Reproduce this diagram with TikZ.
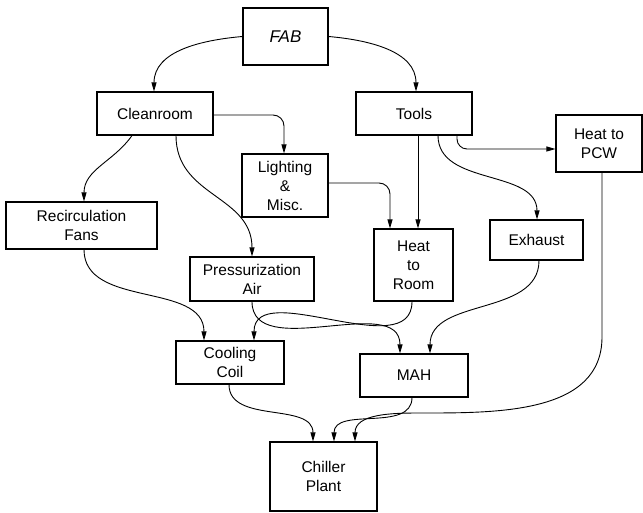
\documentclass[tikz,border=0pt]{standalone}
\usepackage{fontspec}
\setmainfont{Liberation Sans}
\usetikzlibrary{arrows.meta}
\begin{document}
\begin{tikzpicture}[x=1pt,y=1pt,
  box/.style={draw=black, line width=1.1pt, inner sep=0pt, align=center,
    font=\fontsize{15.5}{19}\selectfont},
  conn/.style={line width=0.9pt, -{Triangle[length=9pt,width=5pt]}},
  rc/.style={rounded corners=11pt}]
\useasboundingbox (0,0) rectangle (643,512);
% nodes
\node[box, minimum width=85pt, minimum height=57pt, font=\fontsize{17}{19}\selectfont\itshape] (fab) at (285.5,475.5) {FAB};
\node[box, minimum width=116pt, minimum height=43pt] (clean) at (155,398.5) {Cleanroom};
\node[box, minimum width=116pt, minimum height=43pt] (tools) at (414,398.5) {Tools};
\node[box, minimum width=86pt, minimum height=57pt] (pcw) at (599,368.5) {Heat to\\PCW};
\node[box, minimum width=86pt, minimum height=63pt] (light) at (285,326.5) {Lighting\\\&\\Misc.};
\node[box, minimum width=151pt, minimum height=47pt] (recirc) at (81.5,286.5) {Recirculation\\Fans};
\node[box, minimum width=79pt, minimum height=72pt] (room) at (413.5,247) {Heat\\to\\Room};
\node[box, minimum width=93pt, minimum height=40pt] (exh) at (536.5,272) {Exhaust};
\node[box, minimum width=124pt, minimum height=44pt] (press) at (252,233) {Pressurization\\Air};
\node[box, minimum width=108pt, minimum height=43pt] (cool) at (230,149.5) {Cooling\\Coil};
\node[box, minimum width=108pt, minimum height=43pt] (mah) at (414,136.5) {MAH};
\node[box, minimum width=107pt, minimum height=69pt] (chill) at (323.5,35.5) {Chiller\\Plant};
% waypoints
\coordinate (w1) at (602,175);
\coordinate (w2) at (420,99);
% connectors
\draw[conn] (fab.west) to[out=185,in=90] ([xshift=-1pt]clean.north);
\draw[conn] (fab.east) to[out=-5,in=90] ([xshift=2pt]tools.north);
\draw[conn, rc] ([yshift=-1.5pt]clean.east) -| ([xshift=-1pt]light.north);
\draw[conn] ([xshift=-23pt]clean.south) to[out=235,in=90] ([xshift=2.5pt]recirc.north);
\draw[conn] ([xshift=21pt]clean.south) to[out=-90,in=90,looseness=1.1] (press.north);
\draw[conn] ([xshift=4pt]tools.south) -- ([xshift=4pt]tools.south |- room.north);
\draw[conn] ([xshift=24pt]tools.south) to[out=-90,in=90] ([xshift=0.5pt]exh.north);
\draw[conn, rounded corners=10pt] ([xshift=43pt]tools.south) |- ([yshift=-5.5pt]pcw.west);
\draw[conn, rc] ([yshift=2.5pt]light.east) -| ([xshift=-23.5pt]room.north);
\draw[conn] ([xshift=3pt]pcw.south) -- (w1) to[out=-90,in=0] (w2) to[out=180,in=90] ([xshift=31.5pt]chill.north);
\draw[conn] ([xshift=2.5pt]recirc.south) to[out=-90,in=90] ([xshift=-26pt]cool.north);
\draw[conn] (press.south) to[out=-90,in=90] ([xshift=-14pt]mah.north);
\draw[conn] ([xshift=-1.5pt]room.south) to[out=-90,in=90] ([xshift=24pt]cool.north);
\draw[conn] ([xshift=2.5pt]exh.south) to[out=-90,in=90] ([xshift=16pt]mah.north);
\draw[conn] ([xshift=-1pt]cool.south) to[out=-90,in=90] ([xshift=-10.5pt]chill.north);
\draw[conn] ([xshift=-2pt]mah.south) to[out=-90,in=90] ([xshift=10.5pt]chill.north);
\end{tikzpicture}
\end{document}
